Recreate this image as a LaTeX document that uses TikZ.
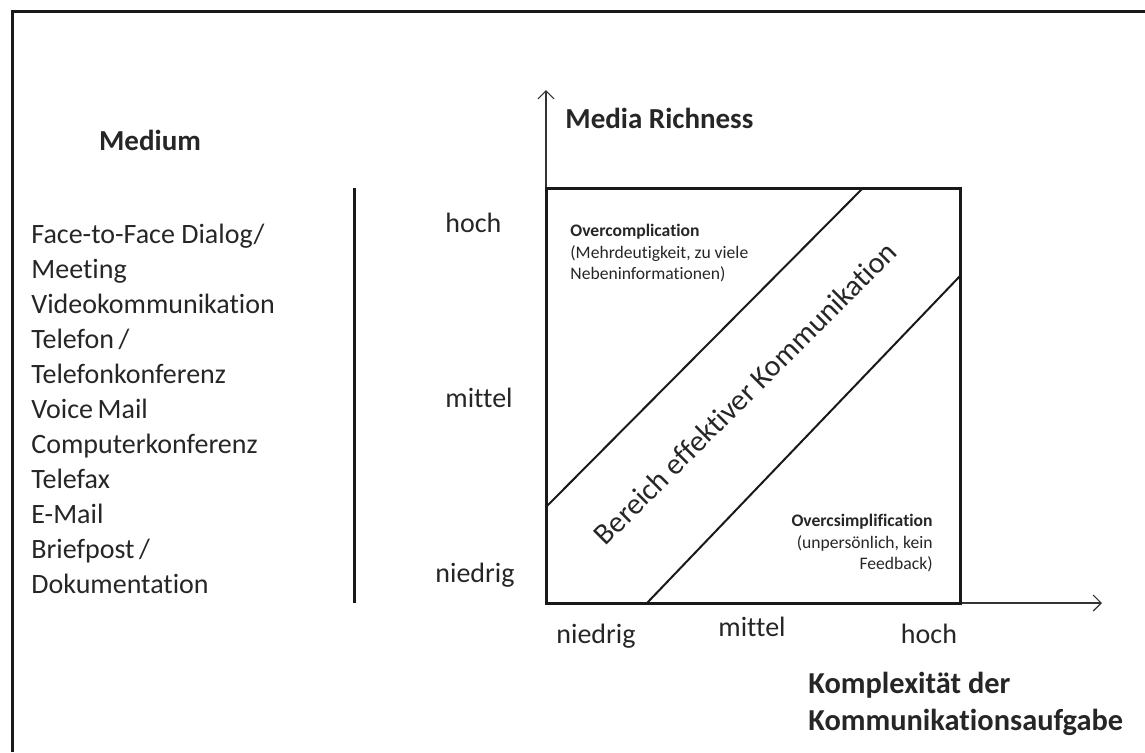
\documentclass[tikz,border=0pt]{standalone}
\usepackage{fontspec}
\setmainfont{Carlito}[Ligatures=NoCommon]
\usetikzlibrary{arrows.meta}

\begin{document}
\begin{tikzpicture}[x=0.5pt, y=-0.5pt, font=\fontsize{14}{17}\selectfont]
  \tikzstyle{heading} = [font=\fontsize{14.5}{18}\selectfont\bfseries, text=black!85, inner sep=0]
  \tikzstyle{item} = [anchor=base west, inner sep=0, text=black!85]
  \tikzstyle{scaletext} = [anchor=base, inner sep=0, text=black!85]
  \tikzstyle{note} = [font=\fontsize{8.8}{10.8}\selectfont, inner sep=0, text=black!85]
  \tikzstyle{frameline} = [line width=1.5pt, black!90]
  \tikzstyle{arrow} = [-{Straight Barb[length=4pt,width=8pt]}, line width=0.6pt, black!80]

  \useasboundingbox (0,0) rectangle (1145,752);

  % Frame
  \draw[frameline] (12,752) -- (12,11) -- (1145,11);

  % Media list
  \node (medium) [heading] at (150,140) {Medium};
  \foreach \txt [count=\i] in {Face-to-Face Dialog/, Meeting, Videokommunikation,
      Telefon\,/, Telefonkonferenz, Voice\,Mail, Computerkonferenz, Telefax,
      E-Mail, Briefpost\,/, Dokumentation}
    \node (item\i) [item] at (31,{243+35*(\i-1)}) {\txt};

  \coordinate (septop) at (354,188);
  \coordinate (sepbot) at (354,603);
  \draw[frameline] (septop) -- (sepbot);

  % Axes
  \coordinate (origin) at (546,603);
  \coordinate (ytip) at (546,90);
  \coordinate (xtip) at (1102,603);
  \draw[arrow] (origin) -- (ytip);
  \draw[arrow] (origin) -- (xtip);

  \node (richness) [heading, anchor=west] at (565,118) {Media Richness};
  \node (komplex) [heading, anchor=north west, align=left, font=\fontsize{15.2}{18.5}\selectfont\bfseries]
    at (808,672) {Komplexität der\\Kommunikationsaufgabe};

  % Scale labels
  \node (yhigh) [scaletext, anchor=base west] at (445,232) {hoch};
  \node (ymid) [scaletext, anchor=base west] at (445,407) {mittel};
  \node (ylow) [scaletext, anchor=base west] at (435,582) {niedrig};
  \node (xlow) [scaletext] at (596,643) {niedrig};
  \node (xmid) [scaletext] at (752,636) {mittel};
  \node (xhigh) [scaletext] at (929,643) {hoch};

  % Chart box
  \coordinate (nw) at (546,188);
  \coordinate (se) at (960,603);
  \draw[frameline] (nw) rectangle (se);

  % Diagonal band
  \coordinate (upa) at (546,507);
  \coordinate (upb) at (863,188);
  \coordinate (loa) at (647,603);
  \coordinate (lob) at (960,276);
  \draw[line width=1pt, black!90] (upa) -- (upb);
  \draw[line width=1pt, black!90] (loa) -- (lob);

  \node (band) [inner sep=0, rotate=45, text=black!85, font=\fontsize{15}{18}\selectfont] at (745,393)
    {Bereich effektiver Kommunikation};

  % Notes
  \node (over) [note, anchor=north west, align=left] at (570,224)
    {\textbf{Overcomplication}\\(Mehrdeutigkeit, zu viele\\Nebeninformationen)};
  \node (under) [note, anchor=north east, align=right] at (933,514)
    {\textbf{Overcsimplification}\\(unpersönlich, kein\\Feedback)};
\end{tikzpicture}
\end{document}
